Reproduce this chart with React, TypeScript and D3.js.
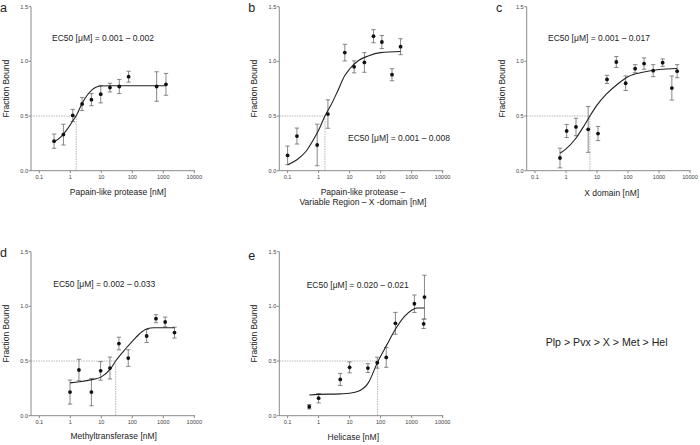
import React from "react";
import * as d3 from "d3";

// ---------- data ----------
const xTicks = [0.1, 1, 10, 100, 1000, 10000];
const xTickLabels = ["0.1", "1", "10", "100", "1000", "10000"];
const yTicks = [0, 0.5, 1.0, 1.5];
const yTickLabels = ["0.0", "0.5", "1.0", "1.5"];

const panelLetters = ["a", "b", "c", "d", "e"];
const ec50Texts = [
  "EC50 [μM] = 0.001 – 0.002",
  "EC50 [μM] = 0.001 – 0.008",
  "EC50 [μM] = 0.001 – 0.017",
  "EC50 [μM] = 0.002 – 0.033",
  "EC50 [μM] = 0.020 – 0.021",
];
const xAxisLabels = [
  ["Papain-like protease [nM]"],
  ["Papain-like protease –", "Variable Region – X -domain [nM]"],
  ["X domain [nM]"],
  ["Methyltransferase [nM]"],
  ["Helicase [nM]"],
];
const ec50Marks = [1.55, 1.6, 5.9, 29, 80];
const rankingText = "Plp > Pvx > X > Met > Hel";

// panel a
const aX = [0.3, 0.6, 1.2, 2.4, 4.8, 9.6, 19, 38, 76, 610, 1220];
const aY = [0.27, 0.33, 0.506, 0.61, 0.65, 0.70, 0.76, 0.77, 0.86, 0.77, 0.79];
const aErr = [0.065, 0.095, 0.055, 0.06, 0.055, 0.08, 0.04, 0.065, 0.05, 0.135, 0.1];
const aFitX = [0.3, 0.5, 0.8, 1.2, 1.6, 2.4, 3.5, 5, 7, 10, 20, 1220];
const aFitY = [0.265, 0.31, 0.38, 0.455, 0.51, 0.615, 0.69, 0.74, 0.765, 0.775, 0.777, 0.777];

// panel b
const bX = [0.1, 0.2, 0.9, 2.0, 7, 14, 30, 59, 110, 233, 440];
const bY = [0.14, 0.317, 0.235, 0.518, 1.08, 0.95, 0.99, 1.23, 1.177, 0.878, 1.134];
const bErr = [0.085, 0.073, 0.19, 0.13, 0.076, 0.055, 0.09, 0.06, 0.06, 0.055, 0.073];
const bFitX = [0.1, 0.2, 0.4, 0.7, 1, 1.6, 2.5, 4, 7, 10, 20, 40, 100, 440];
const bFitY = [0.055, 0.1, 0.18, 0.29, 0.37, 0.5, 0.6, 0.72, 0.87, 0.93, 1.01, 1.05, 1.08, 1.09];

// panel c
const cX = [0.64, 1.05, 2.1, 5.2, 10.8, 21, 42, 84, 170, 330, 650, 1310, 2600, 3850];
const cY = [0.116, 0.363, 0.40, 0.378, 0.34, 0.835, 0.994, 0.80, 0.933, 0.98, 0.915, 0.988, 0.756, 0.91];
const cErr = [0.09, 0.06, 0.08, 0.21, 0.065, 0.037, 0.05, 0.067, 0.037, 0.052, 0.055, 0.034, 0.11, 0.06];
const cFitX = [0.64, 1, 2, 4, 5.9, 10, 20, 50, 100, 300, 1000, 3850];
const cFitY = [0.16, 0.2, 0.29, 0.42, 0.5, 0.6, 0.7, 0.8, 0.86, 0.9, 0.925, 0.935];

// panel d
const dX = [0.98, 1.9, 4.8, 9.5, 19, 37, 74, 290, 580, 1150, 2300];
const dY = [0.216, 0.418, 0.216, 0.41, 0.436, 0.66, 0.527, 0.729, 0.887, 0.857, 0.76];
const dErr = [0.11, 0.098, 0.125, 0.085, 0.1, 0.058, 0.076, 0.06, 0.037, 0.045, 0.05];
const dFitX = [0.98, 2, 5, 10, 20, 29, 60, 100, 200, 300, 500, 2300];
const dFitY = [0.30, 0.31, 0.33, 0.355, 0.43, 0.5, 0.61, 0.68, 0.765, 0.795, 0.805, 0.805];

// panel e
const eX = [0.5, 1, 5, 10, 39, 78, 152, 300, 1230, 2450, 2600];
const eY = [0.082, 0.16, 0.332, 0.442, 0.436, 0.485, 0.533, 0.845, 1.024, 0.84, 1.085];
const eErr = [0.02, 0.043, 0.055, 0.05, 0.04, 0.05, 0.09, 0.1, 0.08, 0.043, 0.2];
const eFitX = [0.5, 1, 5, 10, 20, 40, 80, 160, 300, 600, 1000, 1500, 2600];
const eFitY = [0.19, 0.195, 0.2, 0.205, 0.225, 0.3, 0.49, 0.65, 0.79, 0.91, 0.965, 0.985, 0.985];

const panelData = [
  { x: aX, y: aY, err: aErr, fx: aFitX, fy: aFitY },
  { x: bX, y: bY, err: bErr, fx: bFitX, fy: bFitY },
  { x: cX, y: cY, err: cErr, fx: cFitX, fy: cFitY },
  { x: dX, y: dY, err: dErr, fx: dFitX, fy: dFitY },
  { x: eX, y: eY, err: eErr, fx: eFitX, fy: eFitY },
];

// ---------- layout ----------
const layout = [
  { ax: 31, top: 6.7, bottom: 170.7, ylab: 6, letter: [0, 12], ec: [52, 41], xl: [118, 194.7] },
  { ax: 279.3, top: 6.7, bottom: 170.7, ylab: 254, letter: [248.3, 12], ec: [348, 141.3], xl: [363, 195.3] },
  { ax: 526.7, top: 6.7, bottom: 170.7, ylab: 501.5, letter: [496, 11.7], ec: [548, 40.7], xl: [611.7, 195.7] },
  { ax: 31, top: 251.7, bottom: 415.7, ylab: 6, letter: [0, 257.3], ec: [53.3, 287.3], xl: [113.7, 439.3] },
  { ax: 279.3, top: 251.7, bottom: 415.7, ylab: 254, letter: [248.3, 259.5], ec: [306.7, 288], xl: [353.3, 439.7] },
];

const FONT = "'Liberation Sans', Arial, Helvetica, sans-serif";
const AXIS = "#8a8a8a";
const TXT = "#222";

function Panel({ i }: { i: number }) {
  const L = layout[i];
  const D = panelData[i];
  const x = d3.scaleLog().domain([0.1, 10000]).range([L.ax + 8.3, L.ax + 8.3 + 5 * 31]);
  const y = d3.scaleLinear().domain([0, 1.5]).range([L.bottom, L.top]);
  const pts = D.fx.map((v, k) => [x(v), y(D.fy[k])] as [number, number]);
  const line = d3.line().curve(d3.curveMonotoneX)(pts) || "";
  const ec = ec50Marks[i];
  const xEnd = L.ax + 164;
  return (
    <g>
      {/* axes */}
      <line x1={L.ax} x2={L.ax} y1={L.top} y2={L.bottom} stroke={AXIS} strokeWidth={1} />
      <line x1={L.ax} x2={xEnd} y1={L.bottom} y2={L.bottom} stroke={AXIS} strokeWidth={1} />
      {yTicks.map((t, k) => (
        <g key={"y" + k}>
          <line x1={L.ax - 2.5} x2={L.ax} y1={y(t)} y2={y(t)} stroke={AXIS} />
          <text x={L.ax - 3} y={y(t) + 2} fontSize={5.6} textAnchor="end" fill="#444" fontFamily={FONT}>
            {yTickLabels[k]}
          </text>
        </g>
      ))}
      {xTicks.map((t, k) => (
        <g key={"x" + k}>
          <line x1={x(t)} x2={x(t)} y1={L.bottom} y2={L.bottom + 2.5} stroke={AXIS} />
          <text x={x(t)} y={L.bottom + 8} fontSize={5.6} textAnchor="middle" fill="#444" fontFamily={FONT}>
            {xTickLabels[k]}
          </text>
        </g>
      ))}
      {/* EC50 guides */}
      <line x1={L.ax} x2={x(ec)} y1={y(0.5)} y2={y(0.5)} stroke="#999" strokeWidth={0.7} strokeDasharray="1.5,1" />
      <line x1={x(ec)} x2={x(ec)} y1={y(0.5)} y2={L.bottom} stroke="#999" strokeWidth={0.7} strokeDasharray="1.5,1" />
      {/* error bars */}
      {D.x.map((v, k) => {
        const cx = x(v);
        const y1 = y(D.y[k] - D.err[k]);
        const y2 = y(D.y[k] + D.err[k]);
        return (
          <g key={"e" + k} stroke="#6a6a6a" strokeWidth={0.8}>
            <line x1={cx} x2={cx} y1={y1} y2={y2} />
            <line x1={cx - 2.2} x2={cx + 2.2} y1={y1} y2={y1} />
            <line x1={cx - 2.2} x2={cx + 2.2} y1={y2} y2={y2} />
          </g>
        );
      })}
      {/* fit */}
      <path d={line} fill="none" stroke="#222" strokeWidth={1.1} />
      {/* points */}
      {D.x.map((v, k) => (
        <circle key={"p" + k} cx={x(v)} cy={y(D.y[k])} r={1.9} fill="#111" />
      ))}
      {/* texts */}
      <text x={L.letter[0]} y={L.letter[1]} fontSize={12.5} fill={TXT} fontFamily={FONT}>
        {panelLetters[i]}
      </text>
      <text x={L.ec[0]} y={L.ec[1]} fontSize={8.5} fill={TXT} fontFamily={FONT}>
        {ec50Texts[i]}
      </text>
      <text
        transform={`translate(${L.ylab + 3},${(L.top + L.bottom) / 2}) rotate(-90)`}
        fontSize={8.5}
        textAnchor="middle"
        fill={TXT}
        fontFamily={FONT}
      >
        Fraction Bound
      </text>
      {xAxisLabels[i].map((s, k) => (
        <text key={"xl" + k} x={L.xl[0]} y={L.xl[1] + k * 10} fontSize={8.5} textAnchor="middle" fill={TXT} fontFamily={FONT}>
          {s}
        </text>
      ))}
    </g>
  );
}

export default function App() {
  return (
    <svg
      width={700}
      height={445}
      viewBox="0 0 700 445"
      style={{ position: "absolute", left: 0, top: 0, background: "#fff" }}
    >
      <rect width={700} height={445} fill="#fff" />
      {panelLetters.map((_, i) => (
        <Panel key={i} i={i} />
      ))}
      <text x={545.7} y={346} fontSize={10.6} fill={TXT} fontFamily={FONT}>
        {rankingText}
      </text>
    </svg>
  );
}
